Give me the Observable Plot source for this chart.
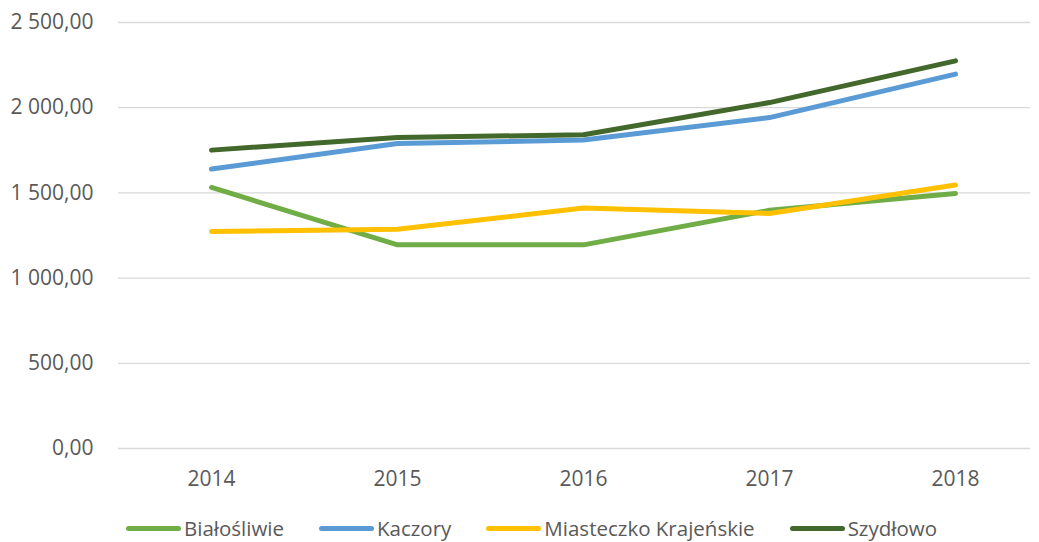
<!DOCTYPE html>
<html><head><meta charset="utf-8">
<script src="https://cdn.jsdelivr.net/npm/d3@7"></script>
<script src="https://cdn.jsdelivr.net/npm/@observablehq/plot@0.6"></script>
<style>
html,body{margin:0;padding:0;background:#fff;}
body{width:1039px;height:542px;overflow:hidden;font-family:"Open Sans",sans-serif;}
#chart svg{display:block;}
#legend{display:flex;justify-content:center;align-items:center;height:28px;line-height:24px;font-size:20.5px;color:#595959;padding-left:24px;}
.item{display:flex;align-items:center;margin:0 17.5px;}
.sw{width:55px;height:5px;border-radius:3px;margin-right:3px;}
</style></head>
<body><div id="chart"></div><div id="legend"></div>
<script>
const years = ["2014", "2015", "2016", "2017", "2018"];
const seriesNames = ["Białośliwie", "Kaczory", "Miasteczko Krajeńskie", "Szydłowo"];
const seriesColors = ["#70AD47", "#5B9BD5", "#FFC000", "#43682B"];
const bialosliwie = [1532, 1195, 1195, 1398, 1497];
const kaczory = [1640, 1790, 1810, 1942, 2197];
const miasteczko = [1273, 1287, 1411, 1379, 1546];
const szydlowo = [1751, 1825, 1841, 2030, 2275];
const yTicks = [0, 500, 1000, 1500, 2000, 2500];

const seriesValues = [bialosliwie, kaczory, miasteczko, szydlowo];
const data = [];
seriesNames.forEach((s, i) => years.forEach((y, j) => data.push({series: s, year: y, value: seriesValues[i][j]})));

const pl = d3.formatLocale({decimal: ",", thousands: " ", grouping: [3], currency: ["", " zł"]});
const fmt = pl.format(",.2f");

const chart = Plot.plot({
  width: 1039,
  height: 514,
  marginTop: 22,
  marginBottom: 66,
  marginLeft: 118,
  marginRight: 9,
  style: {fontFamily: "Open Sans", fontSize: "21px", color: "#595959", background: "#fff"},
  x: {type: "point", domain: years, range: [211, 955], padding: 0, label: null},
  y: {domain: [0, 2500], label: null},
  color: {domain: seriesNames, range: seriesColors},
  marks: [
    Plot.ruleY(yTicks, {stroke: "#D9D9D9", strokeWidth: 1.3}),
    Plot.axisY({ticks: yTicks, tickFormat: fmt, tickSize: 0, tickPadding: 25, label: null, fill: "#595959", fontSize: 21}),
    Plot.axisX({tickSize: 0, tickPadding: 23, label: null, fill: "#595959", fontSize: 21}),
    Plot.line(data, {x: "year", y: "value", z: "series", stroke: "series", strokeWidth: 5, strokeLinecap: "round", strokeLinejoin: "round"})
  ]
});
document.getElementById("chart").appendChild(chart);

const legend = document.getElementById("legend");
seriesNames.forEach((s, i) => {
  const it = document.createElement("div");
  it.className = "item";
  const sw = document.createElement("div");
  sw.className = "sw";
  sw.style.background = seriesColors[i];
  const t = document.createElement("span");
  t.textContent = s;
  it.appendChild(sw); it.appendChild(t);
  legend.appendChild(it);
});
</script>
</body></html>
